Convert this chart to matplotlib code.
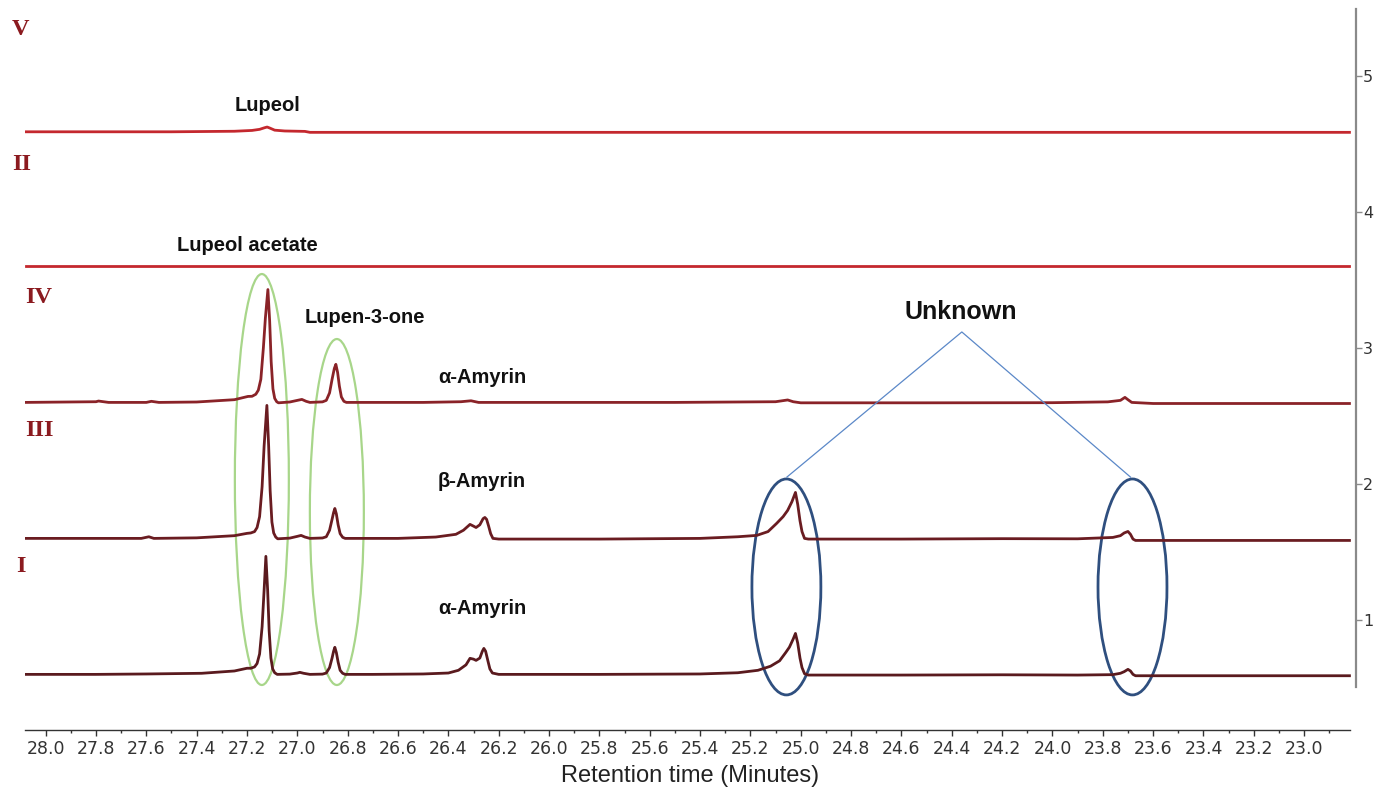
import matplotlib
matplotlib.use("Agg")
import matplotlib.pyplot as plt
from matplotlib.patches import Ellipse

# chromatogram traces: (retention time, signal above own baseline)
trace_I = [(28.08, 0.0), (27.8, 0.0), (27.6, 0.003), (27.38, 0.008), (27.25, 0.025), (27.20, 0.045),
           (27.185, 0.045), (27.17, 0.055), (27.16, 0.08), (27.15, 0.15), (27.14, 0.35), (27.132, 0.62),
           (27.125, 0.868), (27.118, 0.62), (27.112, 0.32), (27.105, 0.12), (27.098, 0.04), (27.09, 0.012),
           (27.08, 0.0), (27.03, 0.002), (27.0, 0.01), (26.99, 0.015), (26.975, 0.008), (26.95, 0.0),
           (26.9, 0.002), (26.885, 0.01), (26.872, 0.05), (26.862, 0.12), (26.856, 0.17), (26.851, 0.199),
           (26.845, 0.16), (26.838, 0.09), (26.83, 0.03), (26.82, 0.008), (26.81, 0.0), (26.7, 0.0),
           (26.5, 0.003), (26.4, 0.01), (26.36, 0.03), (26.33, 0.07), (26.314, 0.118), (26.30, 0.112),
           (26.29, 0.103), (26.275, 0.12), (26.265, 0.17), (26.259, 0.191), (26.252, 0.17), (26.243, 0.1),
           (26.235, 0.04), (26.225, 0.01), (26.2, 0.0), (25.8, 0.0), (25.4, 0.003), (25.25, 0.012),
           (25.17, 0.03), (25.12, 0.06), (25.084, 0.1), (25.06, 0.16), (25.045, 0.2), (25.03, 0.26),
           (25.021, 0.301), (25.012, 0.23), (25.003, 0.12), (24.995, 0.05), (24.985, 0.005), (24.97, -0.005),
           (24.6, -0.005), (24.2, -0.003), (23.9, -0.005), (23.76, -0.002), (23.73, 0.008), (23.715, 0.02),
           (23.70, 0.037), (23.69, 0.025), (23.68, 0.0), (23.67, -0.01), (23.4, -0.01), (23.0, -0.01),
           (22.82, -0.01)]

trace_III = [(28.08, 0.0), (27.8, 0.0), (27.62, 0.0), (27.59, 0.012), (27.57, 0.0), (27.4, 0.004),
             (27.25, 0.02), (27.20, 0.037), (27.185, 0.04), (27.17, 0.05), (27.16, 0.08), (27.15, 0.16),
             (27.14, 0.38), (27.132, 0.68), (27.121, 0.978), (27.114, 0.68), (27.108, 0.35), (27.101, 0.12),
             (27.094, 0.04), (27.086, 0.01), (27.078, -0.003), (27.03, 0.002), (27.0, 0.015), (26.985, 0.022),
             (26.97, 0.01), (26.95, 0.0), (26.9, 0.003), (26.885, 0.012), (26.872, 0.06), (26.862, 0.14),
             (26.856, 0.19), (26.851, 0.22), (26.845, 0.18), (26.838, 0.1), (26.83, 0.035), (26.82, 0.008),
             (26.81, 0.0), (26.6, 0.0), (26.45, 0.01), (26.37, 0.03), (26.34, 0.06), (26.314, 0.103),
             (26.30, 0.09), (26.29, 0.08), (26.275, 0.1), (26.262, 0.145), (26.255, 0.154), (26.248, 0.14),
             (26.24, 0.09), (26.232, 0.035), (26.223, 0.0), (26.2, -0.005), (25.8, -0.005), (25.4, 0.0),
             (25.25, 0.012), (25.175, 0.022), (25.13, 0.05), (25.096, 0.11), (25.07, 0.16), (25.052, 0.206),
             (25.035, 0.27), (25.021, 0.338), (25.012, 0.25), (25.003, 0.13), (24.995, 0.05), (24.985, 0.0),
             (24.97, -0.005), (24.6, -0.005), (24.2, -0.002), (23.9, -0.003), (23.76, 0.007), (23.73, 0.02),
             (23.715, 0.04), (23.70, 0.051), (23.69, 0.03), (23.68, -0.005), (23.67, -0.015), (23.4, -0.015),
             (23.0, -0.015), (22.82, -0.015)]

trace_IV = [(28.08, 0.0), (27.8, 0.005), (27.79, 0.01), (27.75, 0.0), (27.6, 0.0), (27.58, 0.008),
            (27.55, 0.0), (27.4, 0.003), (27.25, 0.02), (27.196, 0.044), (27.18, 0.045), (27.165, 0.06),
            (27.155, 0.09), (27.145, 0.17), (27.135, 0.4), (27.127, 0.62), (27.117, 0.83), (27.11, 0.6),
            (27.104, 0.3), (27.097, 0.1), (27.09, 0.03), (27.082, 0.005), (27.075, -0.003), (27.03, 0.003),
            (27.0, 0.015), (26.982, 0.022), (26.965, 0.008), (26.95, 0.0), (26.9, 0.004), (26.885, 0.015),
            (26.872, 0.07), (26.862, 0.17), (26.853, 0.25), (26.847, 0.28), (26.84, 0.22), (26.833, 0.12),
            (26.825, 0.04), (26.815, 0.008), (26.805, 0.0), (26.5, 0.0), (26.35, 0.005), (26.31, 0.012),
            (26.28, 0.0), (25.5, 0.0), (25.1, 0.005), (25.052, 0.018), (25.03, 0.005), (25.0, -0.003),
            (24.5, -0.003), (24.0, -0.002), (23.78, 0.004), (23.73, 0.015), (23.712, 0.037), (23.7, 0.02),
            (23.685, 0.0), (23.6, -0.008), (23.0, -0.008), (22.82, -0.008)]

trace_II = [(28.08, 0.0), (22.82, 0.0)]

trace_V = [(28.08, 0.0), (27.5, 0.0), (27.25, 0.004), (27.18, 0.01), (27.15, 0.018), (27.13, 0.03),
           (27.12, 0.035), (27.11, 0.028), (27.09, 0.012), (27.05, 0.006), (26.97, 0.003), (26.95, -0.004),
           (22.82, -0.004)]

traces = [trace_I, trace_III, trace_IV, trace_II, trace_V]
trace_names = ["I", "III", "IV", "II", "V"]
offsets = [0.6, 1.6, 2.6, 3.6, 4.59]
colors = ["#5a1a1e", "#6a1c21", "#8a2328", "#c4282e", "#c4282e"]

# roman label positions (time, level)
name_x = [28.118, 28.082, 28.082, 28.134, 28.134]
name_y = [1.39, 2.397, 3.375, 4.353, 5.342]

compounds = ["Lupeol", "Lupeol acetate", "Lupen-3-one", "α-Amyrin", "β-Amyrin", "α-Amyrin"]
compound_x = [27.12, 27.2, 26.73, 26.266, 26.266, 26.266]
compound_y = [4.787, 3.757, 3.228, 2.78, 2.015, 1.088]

x_major = [round(28.0 - 0.2 * i, 1) for i in range(26)]
x_minor = [round(27.9 - 0.2 * i, 1) for i in range(26)]
y_major = [1, 2, 3, 4, 5]

fig = plt.figure(figsize=(13.79, 7.91), dpi=100)
ax = fig.add_axes([0.01813, 0.07712, 0.96519, 0.9115])

for tr, off, col in zip(traces, offsets, colors):
    t = [p[0] for p in tr]
    h = [p[1] + off for p in tr]
    ax.plot(t, h, color=col, lw=2.0, solid_joinstyle="round")

for name, x, y in zip(trace_names, name_x, name_y):
    ax.text(x, y, name, family="Liberation Serif", fontweight="bold", fontsize=17.5,
            color="#8b1a1f", ha="left", va="center", clip_on=False)

for name, x, y in zip(compounds, compound_x, compound_y):
    ax.text(x, y, name, family="Liberation Sans", fontweight="bold", fontsize=14.5,
            color="#111111", ha="center", va="center")

# green ellipses around lupeol / lupen-3-one peaks
ax.add_patch(Ellipse((27.141, 2.033), 0.2145, 3.022, fill=False, ec="#a8d68a", lw=1.6))
ax.add_patch(Ellipse((26.843, 1.794), 0.2145, 2.544, fill=False, ec="#a8d68a", lw=1.6))

# blue ellipses around unknown peaks
for cx in [25.057, 23.682]:
    ax.add_patch(Ellipse((cx, 1.243), 0.274, 1.588, fill=False, ec="#2f4f7f", lw=2.0, clip_on=False))

ax.text(24.363, 3.265, "Unknown", family="Liberation Sans", fontweight="bold", fontsize=18,
        color="#111111", ha="center", va="center")
ax.plot([25.055, 24.36, 23.69], [2.051, 3.118, 2.051], color="#5b88c8", lw=0.9)

ax.set_xlim(28.082, 22.794)
ax.set_ylim(0.191, 5.493)

ax.spines["left"].set_visible(False)
ax.spines["top"].set_visible(False)
ax.spines["right"].set_color("#8a8a8a")
ax.spines["right"].set_linewidth(1.6)
ax.spines["right"].set_bounds(0.507, 5.493)
ax.spines["bottom"].set_color("#333333")
ax.spines["bottom"].set_linewidth(1.0)
ax.spines["bottom"].set_bounds(28.082, 22.818)

ax.set_xticks(x_major)
ax.set_xticklabels([f"{v:.1f}" for v in x_major], family="DejaVu Sans", fontsize=12.5, color="#333333")
ax.set_xticks(x_minor, minor=True)
ax.tick_params(axis="x", which="major", length=4, width=1, color="#333333", pad=3)
ax.tick_params(axis="x", which="minor", length=2.5, width=1, color="#333333")

ax.yaxis.tick_right()
ax.set_yticks(y_major)
ax.set_yticklabels([str(v) for v in y_major], family="DejaVu Sans", fontsize=11.5, color="#333333")
ax.tick_params(axis="y", length=4, width=1, color="#8a8a8a", pad=1)

ax.set_xlabel("Retention time (Minutes)", family="Liberation Sans", fontsize=17, color="#222222", labelpad=5)

fig.savefig("out.png", dpi=100)
